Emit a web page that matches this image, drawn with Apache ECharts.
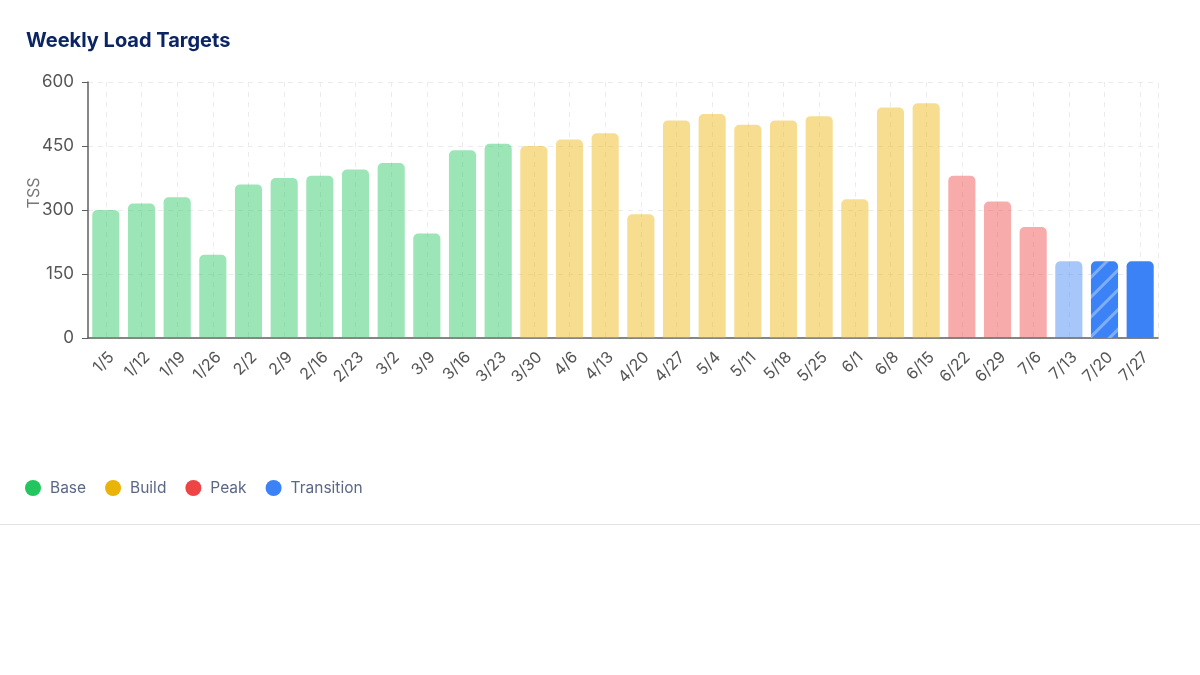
<!DOCTYPE html>
<html lang="en">
<head>
    <meta charset="UTF-8">
    <title>Weekly Load Targets</title>
    <style>
        html,body{margin:0;padding:0;background:#fff;}
        #main{
            width: 1200px;
            height: 524px;
            border-bottom: 1px solid #e2e3e8;
        }
    </style>
</head>
<body>
<div id="main"></div>
<script src="https://cdn.jsdelivr.net/npm/echarts@6/dist/echarts.min.js"></script>
<script>
    const weeks = ['1/5','1/12','1/19','1/26','2/2','2/9','2/16','2/23','3/2','3/9','3/16','3/23',
        '3/30','4/6','4/13','4/20','4/27','5/4','5/11','5/18','5/25','6/1','6/8','6/15',
        '6/22','6/29','7/6','7/13','7/20','7/27']
    const tss = [300,315,330,195,360,375,380,395,410,245,440,455,
        450,465,480,290,510,525,500,510,520,325,540,550,
        380,320,260,180,180,180]
    const weekPhase = ['Base','Base','Base','Base','Base','Base','Base','Base','Base','Base','Base','Base',
        'Build','Build','Build','Build','Build','Build','Build','Build','Build','Build','Build','Build',
        'Peak','Peak','Peak','Transition','Transition','Transition']
    const phases = ['Base','Build','Peak','Transition']
    const phaseColors = ['#22c55e','#eab308','#ef4444','#3b82f6']

    const myChart = echarts.init(document.getElementById('main'))

    const series = phases.map((p, i) => ({
        name: p,
        type: 'bar',
        stack: 'tss',
        barCategoryGap: '24%',
        itemStyle: {color: phaseColors[i], opacity: 0.45, borderRadius: [5,5,0,0]},
        emphasis: {disabled: true},
        data: tss.map((v, k) => {
            if (weekPhase[k] !== p) return '-'
            // last two transition weeks are drawn solid, 7/20 hatched
            if (weeks[k] === '7/20') return {value: v, itemStyle: {opacity: 1,
                decal: {symbol: 'rect', dashArrayX: [1, 0], dashArrayY: [3, 11],
                    rotation: -Math.PI / 4, color: 'rgba(255,255,255,0.35)'}}}
            if (weeks[k] === '7/27') return {value: v, itemStyle: {opacity: 1}}
            return v
        })
    }))

    const option = {
        animation: false,
        textStyle: {fontFamily: 'Inter'},
        title: {
            text: 'Weekly Load Targets',
            left: 21, top: 26,
            textStyle: {fontSize: 20, fontWeight: 700, color: '#0b2463', fontFamily: 'Inter'}
        },
        legend: {
            left: 20, top: 475,
            icon: 'circle',
            itemWidth: 16, itemHeight: 16,
            itemGap: 19,
            itemStyle: {opacity: 1},
            textStyle: {fontSize: 15.5, color: '#5b6784', padding: [0,0,0,4]},
            data: phases
        },
        grid: {left: 88, right: 42, top: 82, bottom: 186},
        xAxis: {
            type: 'category',
            data: weeks,
            axisLine: {lineStyle: {color: '#5f5f5f', width: 1.5}},
            axisTick: {alignWithLabel: true, length: 6, lineStyle: {color: '#5f5f5f'}},
            axisLabel: {rotate: 45, fontSize: 16, color: '#555', margin: 11, interval: 0,
                verticalAlign: 'top'},
            splitLine: {show: true, alignWithLabel: true, lineStyle: {color: '#ececec', type: [5,5]}}
        },
        yAxis: [{
            type: 'value',
            min: 0, max: 600, interval: 150,
            name: 'TSS',
            nameLocation: 'middle',
            nameGap: 46,
            nameMoveOverlap: false,
            nameTextStyle: {fontSize: 16, color: '#777', padding: [0,0,0,34]},
            axisLine: {show: true, lineStyle: {color: '#5f5f5f', width: 1.5}},
            axisTick: {show: true, length: 6, lineStyle: {color: '#5f5f5f'}},
            axisLabel: {fontSize: 17, color: '#555', margin: 14},
            splitLine: {lineStyle: {color: '#ececec', type: [5,5]}}
        }, {
            type: 'value',
            min: 0, max: 600, interval: 150,
            position: 'right',
            axisLine: {show: true, lineStyle: {color: '#ececec', type: [5,5]}},
            axisTick: {show: false},
            axisLabel: {show: false},
            splitLine: {show: false}
        }],
        series
    }

    myChart.setOption(option)
</script>
</body>
</html>
